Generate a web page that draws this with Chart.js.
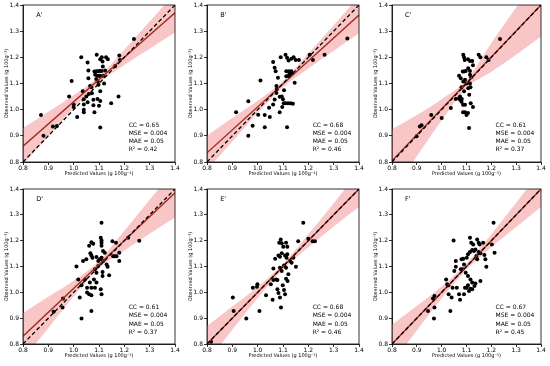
<!DOCTYPE html>
<html lang="en">
<head>
<meta charset="UTF-8">
<title>Predicted vs Observed</title>
<script src="https://cdn.jsdelivr.net/npm/chart.js"></script>
<style>
  body { margin: 0; background: #fff; }
  #wrap { position: relative; width: 550px; height: 366px; }
  #wrap canvas { position: absolute; }
</style>
</head>
<body>
<div id="wrap">
  <canvas id="cA" width="184" height="184" style="left:0;top:0"></canvas>
  <canvas id="cB" width="184" height="184" style="left:184px;top:0"></canvas>
  <canvas id="cC" width="181" height="184" style="left:369px;top:0"></canvas>
  <canvas id="cD" width="184" height="182" style="left:0;top:184px"></canvas>
  <canvas id="cE" width="184" height="182" style="left:184px;top:184px"></canvas>
  <canvas id="cF" width="181" height="182" style="left:369px;top:184px"></canvas>
</div>
<script>
// panel labels and statistics
const panelLabels = ["A'", "B'", "C'", "D'", "E'", "F'"];
const ccVals = [0.65, 0.68, 0.61, 0.61, 0.68, 0.67];
const mseVals = ["0.004", "0.004", "0.004", "0.004", "0.004", "0.004"];
const maeVals = ["0.05", "0.05", "0.05", "0.05", "0.05", "0.05"];
const r2Vals = [0.42, 0.46, 0.37, 0.37, 0.46, 0.45];
const tickVals = [0.8, 0.9, 1.0, 1.1, 1.2, 1.3, 1.4];

// scatter points (predicted, observed)
const predA = [0.871,0.881,0.918,0.934,0.992,0.982,1.0,1.0,1.014,1.03,1.036,1.04,1.04,1.04,1.04,1.055,1.058,1.058,1.055,1.065,1.072,1.078,1.078,1.082,1.082,1.085,1.089,1.091,1.09,1.097,1.104,1.11,1.095,1.102,1.108,1.095,1.098,1.094,1.105,1.10,1.105,1.105,1.114,1.111,1.12,1.128,1.135,1.124,1.148,1.164,1.177,1.18,1.183,1.238,1.105,1.118,1.115,1.07,1.06,1.05];
const obsA  = [0.98,0.90,0.936,0.938,1.11,1.05,1.02,1.01,0.972,1.20,1.07,1.04,1.02,1.0,0.99,1.18,1.15,1.12,1.028,1.09,1.063,1.038,1.017,0.99,1.146,1.133,1.117,1.21,1.147,1.147,1.148,1.148,1.13,1.13,1.128,1.108,1.095,1.041,1.033,1.015,0.932,1.193,1.184,1.20,1.10,1.20,1.193,1.15,1.025,1.167,1.05,1.207,1.19,1.27,1.07,1.13,1.165,1.086,1.06,1.05];

const predB = [0.915,0.963,0.963,0.98,1.002,1.011,1.028,1.028,1.045,1.048,1.061,1.067,1.071,1.061,1.067,1.074,1.08,1.076,1.087,1.087,1.091,1.095,1.10,1.103,1.11,1.12,1.13,1.11,1.116,1.122,1.113,1.123,1.133,1.113,1.123,1.126,1.137,1.116,1.133,1.142,1.15,1.139,1.146,1.163,1.205,1.218,1.264,1.354,1.104,1.097,1.074];
const obsB  = [0.99,1.032,0.90,0.939,0.981,1.111,0.933,0.98,1.007,0.972,1.182,1.16,1.147,1.02,1.039,1.064,1.122,1.079,1.049,0.99,1.20,1.05,1.04,1.025,1.025,1.025,1.025,1.21,1.198,1.188,1.147,1.147,1.147,1.128,1.13,1.138,1.138,0.933,1.195,1.20,1.19,1.023,1.103,1.19,1.21,1.19,1.21,1.272,1.074,1.01,1.09];

const predC = [0.899,0.912,0.919,0.958,1.0,1.037,1.057,1.07,1.07,1.077,1.074,1.081,1.087,1.09,1.093,1.085,1.09,1.097,1.087,1.094,1.10,1.086,1.094,1.086,1.094,1.10,1.106,1.106,1.114,1.123,1.107,1.114,1.107,1.116,1.111,1.114,1.11,1.117,1.126,1.114,1.119,1.149,1.156,1.18,1.189,1.235,1.08,1.09,1.126,1.074,1.08];
const obsC  = [0.898,0.936,0.94,0.98,0.968,1.006,1.041,1.044,1.13,1.12,1.05,1.041,1.21,1.20,1.19,1.146,1.146,1.148,1.108,1.114,1.10,1.019,1.019,0.99,0.99,0.98,0.987,1.193,1.186,1.186,1.158,1.148,1.082,1.086,1.057,1.10,0.93,1.025,1.01,1.133,1.124,1.21,1.20,1.20,1.19,1.27,1.086,1.07,1.17,1.038,1.03];

const predD = [0.921,0.956,0.958,1.011,1.018,1.024,1.031,1.031,1.037,1.044,1.05,1.053,1.061,1.07,1.053,1.07,1.084,1.061,1.07,1.077,1.066,1.07,1.074,1.064,1.09,1.07,1.084,1.09,1.097,1.11,1.107,1.11,1.11,1.11,1.103,1.11,1.116,1.107,1.11,1.116,1.123,1.114,1.114,1.13,1.134,1.14,1.156,1.163,1.169,1.153,1.167,1.18,1.18,1.215,1.259,1.09,1.097,1.08];
const obsD  = [0.925,0.941,0.976,1.10,1.05,0.98,0.899,1.027,1.121,1.05,1.128,0.999,0.993,0.989,1.018,1.018,1.018,1.18,1.194,1.188,1.151,1.143,1.134,1.038,1.038,0.928,1.089,1.076,1.102,1.269,1.211,1.201,1.192,1.18,1.128,1.134,1.121,1.012,0.993,1.16,1.153,1.063,1.079,1.108,1.099,1.066,1.14,1.14,1.14,1.198,1.192,1.153,1.121,1.211,1.20,1.137,1.121,1.05];

const predE = [0.816,0.902,0.905,0.955,0.981,0.997,0.999,1.007,1.033,1.052,1.062,1.059,1.069,1.073,1.078,1.078,1.082,1.088,1.085,1.091,1.095,1.082,1.088,1.095,1.088,1.095,1.092,1.099,1.104,1.108,1.101,1.112,1.117,1.108,1.114,1.117,1.104,1.112,1.112,1.118,1.121,1.128,1.134,1.151,1.16,1.18,1.20,1.217,1.226,1.141,1.062];
const obsE  = [0.809,0.98,0.928,0.899,1.018,1.022,1.031,0.928,0.989,1.031,1.048,0.971,1.13,1.05,1.048,1.012,0.997,0.98,1.192,1.205,1.19,1.143,1.138,1.151,1.095,1.083,0.941,1.027,1.009,0.993,1.176,1.192,1.176,1.143,1.134,1.147,1.104,1.095,1.053,1.044,1.07,1.121,1.115,1.099,1.198,1.269,1.207,1.198,1.198,1.134,1.092];

const predF = [0.945,0.965,0.971,0.971,0.969,1.018,1.022,1.027,1.028,1.035,1.04,1.048,1.044,1.051,1.057,1.057,1.061,1.07,1.074,1.077,1.084,1.08,1.087,1.09,1.094,1.101,1.106,1.09,1.101,1.106,1.114,1.097,1.106,1.116,1.123,1.11,1.116,1.123,1.114,1.119,1.127,1.123,1.13,1.136,1.132,1.136,1.14,1.143,1.149,1.153,1.149,1.156,1.156,1.167,1.172,1.176,1.18,1.202,1.209,1.213,1.143];
const obsF  = [0.928,0.976,0.986,0.941,0.899,1.05,1.031,1.027,0.993,0.928,0.98,1.201,1.018,1.083,1.099,1.121,1.018,0.993,0.971,1.089,1.089,1.128,1.13,1.108,1.018,1.018,1.027,0.993,1.134,1.147,1.156,1.076,1.063,1.05,1.038,1.005,1.014,1.012,1.211,1.192,1.185,1.164,1.16,1.166,1.025,1.034,1.141,1.205,1.192,1.185,1.156,1.151,1.044,1.192,1.145,1.128,1.099,1.185,1.269,1.153,1.128];

// regression line ends (y at x = 0.8 and x = 1.4)
const fitA = [0.86, 1.37];
const fitB = [0.835, 1.362];
const fitC = [0.805, 1.40];
const fitD = [0.83, 1.385];
const fitE = [0.80, 1.40];
const fitF = [0.80, 1.40];

// confidence band edges at tickVals
const loA = [0.79, 0.898, 1.005, 1.103, 1.171, 1.233, 1.295];
const hiA = [0.93, 0.992, 1.055, 1.127, 1.229, 1.337, 1.445];
const loB = [0.77, 0.878, 0.988, 1.086, 1.157, 1.225, 1.292];
const hiB = [0.90, 0.968, 1.034, 1.110, 1.215, 1.323, 1.432];
const loC = [0.685, 0.822, 0.96, 1.083, 1.145, 1.21, 1.28];
const hiC = [0.925, 0.98, 1.04, 1.113, 1.255, 1.39, 1.52];
const loD = [0.74, 0.862, 0.985, 1.094, 1.162, 1.227, 1.29];
const hiD = [0.92, 0.983, 1.045, 1.121, 1.238, 1.358, 1.48];
const loE = [0.73, 0.855, 0.978, 1.09, 1.175, 1.255, 1.33];
const hiE = [0.87, 0.945, 1.022, 1.11, 1.225, 1.345, 1.47];
const loF = [0.725, 0.852, 0.977, 1.088, 1.175, 1.253, 1.33];
const hiF = [0.875, 0.948, 1.023, 1.112, 1.225, 1.347, 1.47];

const FONT = "'DejaVu Sans', sans-serif";

// black box round the plot area
const framePlugin = {
    id: 'frame',
    afterDatasetsDraw(chart) {
        const a = chart.chartArea;
        const ctx = chart.ctx;
        ctx.save();
        ctx.strokeStyle = '#000';
        ctx.lineWidth = 0.8;
        ctx.strokeRect(a.left, a.top, a.right - a.left, a.bottom - a.top);
        ctx.restore();
    }
};

// panel letter and the stats text
const textPlugin = {
    id: 'panelText',
    afterDraw(chart, args, opts) {
        const ctx = chart.ctx;
        const xs = chart.scales.x, ys = chart.scales.y;
        ctx.save();
        ctx.fillStyle = '#000';
        ctx.textBaseline = 'middle';
        ctx.font = '6.5px ' + FONT;
        ctx.fillText(opts.label, xs.getPixelForValue(0.852), ys.getPixelForValue(1.362));
        ctx.font = '6px ' + FONT;
        const x0 = xs.getPixelForValue(1.217);
        const y0 = ys.getPixelForValue(0.941);
        opts.lines.forEach((t, i) => ctx.fillText(t, x0, y0 + i * 8.2));
        ctx.restore();
    }
};

function pts(xs, ys) {
    return xs.map((x, i) => ({ x: x, y: ys[i] }));
}

function makePanel(id, idx, pred, obs, fit, lo, hi) {
    const axisTitle = { family: FONT, size: 5 };
    const tickFont = { family: FONT, size: 6 };
    new Chart(document.getElementById(id), {
        type: 'scatter',
        data: {
            datasets: [
                { type: 'line', data: pts(tickVals, lo), borderWidth: 0, pointRadius: 0, fill: false, cubicInterpolationMode: 'monotone', order: 5 },
                { type: 'line', data: pts(tickVals, hi), borderWidth: 0, pointRadius: 0, fill: '-1', backgroundColor: 'rgba(244, 160, 160, 0.6)', cubicInterpolationMode: 'monotone', order: 5 },
                { data: pts(pred, obs), backgroundColor: '#000', borderWidth: 0, pointRadius: 2, order: 3 },
                { type: 'line', data: [{ x: 0.8, y: fit[0] }, { x: 1.4, y: fit[1] }], borderColor: '#a3291c', borderWidth: 1.4, pointRadius: 0, fill: false, order: 2 },
                { type: 'line', data: [{ x: 0.8, y: 0.8 }, { x: 1.4, y: 1.4 }], borderColor: '#000', borderWidth: 1.3, borderDash: [4, 2.5], pointRadius: 0, fill: false, order: 1 }
            ]
        },
        options: {
            responsive: false,
            devicePixelRatio: 1,
            animation: false,
            events: [],
            layout: { padding: { top: 5, right: 9, left: 0, bottom: 0 } },
            plugins: {
                legend: { display: false },
                tooltip: { enabled: false },
                panelText: {
                    label: panelLabels[idx],
                    lines: ['CC = ' + ccVals[idx].toFixed(2), 'MSE = ' + mseVals[idx], 'MAE = ' + maeVals[idx], 'R\u00B2 = ' + r2Vals[idx].toFixed(2)]
                }
            },
            scales: {
                x: {
                    type: 'linear', min: 0.8, max: 1.4,
                    afterFit: s => { s.height = 22; },
                    afterBuildTicks: s => { s.ticks = tickVals.map(v => ({ value: v })); },
                    ticks: { font: tickFont, color: '#000', padding: 0, maxRotation: 0, callback: v => v.toFixed(1) },
                    grid: { drawOnChartArea: false, drawTicks: true, tickLength: 3, color: '#000', lineWidth: 0.8 },
                    border: { display: true, color: '#000', width: 0.8 },
                    title: { display: true, text: 'Predicted Values (g 100g\u207B\u00B9)', font: axisTitle, color: '#000', padding: { top: 0, bottom: 7 } }
                },
                y: {
                    type: 'linear', min: 0.8, max: 1.4,
                    afterFit: s => { s.width = 23; },
                    afterBuildTicks: s => { s.ticks = tickVals.map(v => ({ value: v })); },
                    ticks: { font: tickFont, color: '#000', padding: 1, callback: v => v.toFixed(1) },
                    grid: { drawOnChartArea: false, drawTicks: true, tickLength: 3, color: '#000', lineWidth: 0.8 },
                    border: { display: true, color: '#000', width: 0.8 },
                    title: { display: true, text: 'Observed Values (g 100g\u207B\u00B9)', font: axisTitle, color: '#000', padding: { top: 3.5, bottom: 0 } }
                }
            }
        },
        plugins: [framePlugin, textPlugin]
    });
}

makePanel('cA', 0, predA, obsA, fitA, loA, hiA);
makePanel('cB', 1, predB, obsB, fitB, loB, hiB);
makePanel('cC', 2, predC, obsC, fitC, loC, hiC);
makePanel('cD', 3, predD, obsD, fitD, loD, hiD);
makePanel('cE', 4, predE, obsE, fitE, loE, hiE);
makePanel('cF', 5, predF, obsF, fitF, loF, hiF);
</script>
</body>
</html>
